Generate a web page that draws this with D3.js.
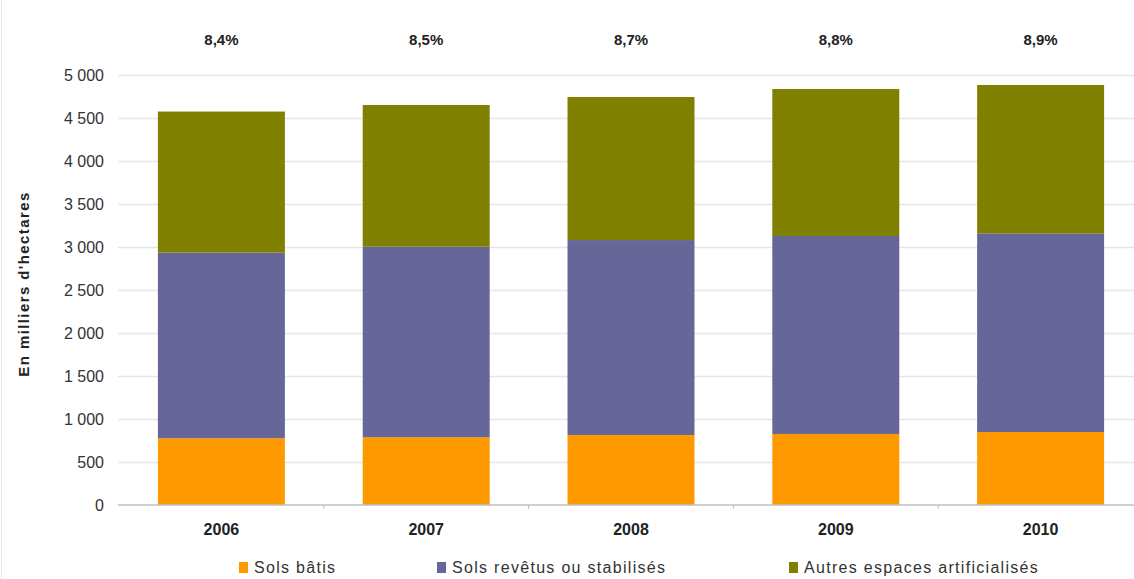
<!DOCTYPE html>
<html>
<head>
<meta charset="utf-8">
<script src="https://cdn.jsdelivr.net/npm/d3@7"></script>
<style>
  body { margin: 0; background: white; }
  svg { font-family: "Liberation Sans", Arial, sans-serif; }
  .grid line { stroke: #e6e6e6; stroke-width: 1.5px; }
  .grid path { display: none; }
  .y.axis path, .y.axis line { display: none; }
  .y.axis text { fill: #333; font-size: 16px; }
  .x.axis path { stroke: #c0c0c0; stroke-width: 1.5px; }
  .x.axis line { stroke: #c0c0c0; }
  .x.axis text { fill: #222; font-size: 16px; font-weight: bold; }
  .pct { fill: #222; font-size: 15px; font-weight: bold; }
  .legend text { fill: #333; font-size: 16px; letter-spacing: 1.3px; }
</style>
</head>
<body>
<svg id="svg" width="1134" height="579"></svg>
<script>
// data (milliers d'hectares)
var years = ["2006", "2007", "2008", "2009", "2010"];
var solsBatis = [776, 787, 814, 826, 849];
var solsRevetus = [2158, 2216, 2267, 2302, 2310];
var autresEspaces = [1641, 1648, 1663, 1709, 1725];
var shares = ["8,4%", "8,5%", "8,7%", "8,8%", "8,9%"];
var seriesNames = ["Sols bâtis", "Sols revêtus ou stabilisés", "Autres espaces artificialisés"];
var colors = ["#ff9900", "#666699", "#808000"];

var svg = d3.select("#svg");

var x = d3.scaleBand().domain(years).range([119, 1143])
  .paddingInner(0.38).paddingOuter(0.19);
var y = d3.scaleLinear().domain([0, 5000]).range([505, 75]);

// faint frame line on the left
svg.append("line").attr("x1", 1.5).attr("x2", 1.5).attr("y1", 0).attr("y2", 579)
  .attr("stroke", "#e8e8e8");

// gridlines
svg.append("g").attr("class", "grid")
  .attr("transform", "translate(118,0)")
  .call(d3.axisRight(y).tickValues(d3.range(500, 5001, 500)).tickSize(1134 - 118).tickFormat(""));

// stacked bars
var rows = years.map(function(yr, i) {
  return { year: yr, s0: solsBatis[i], s1: solsRevetus[i], s2: autresEspaces[i] };
});
var stack = d3.stack().keys(["s0", "s1", "s2"]);
var layers = stack(rows);

svg.selectAll("g.layer").data(layers).enter().append("g")
  .attr("class", "layer")
  .attr("fill", function(d, i) { return colors[i]; })
  .selectAll("rect").data(function(d) { return d; }).enter().append("rect")
  .attr("x", function(d) { return x(d.data.year); })
  .attr("width", x.bandwidth())
  .attr("y", function(d) { return y(d[1]); })
  .attr("height", function(d) { return y(d[0]) - y(d[1]); });

// y axis
svg.append("g").attr("class", "y axis")
  .attr("transform", "translate(104,0)")
  .call(d3.axisLeft(y).tickValues(d3.range(0, 5001, 500)).tickSize(0).tickPadding(0)
    .tickFormat(function(d) { return d3.format(",")(d).replace(",", " "); }));

// x axis
var xAxisG = svg.append("g").attr("class", "x axis")
  .attr("transform", "translate(0,505)")
  .call(d3.axisBottom(x).tickSize(0).tickPadding(19));
xAxisG.select(".domain").attr("d", "M118,0H1134");
// small tick marks between categories
xAxisG.selectAll(".sep").data(years.slice(1)).enter().append("line")
  .attr("class", "sep")
  .attr("x1", function(d) { return x(d) - x.step() * x.paddingInner() / 2; })
  .attr("x2", function(d) { return x(d) - x.step() * x.paddingInner() / 2; })
  .attr("y1", 0).attr("y2", 4)
  .attr("stroke", "#888");

// percentage labels
svg.selectAll("text.pct").data(shares).enter().append("text")
  .attr("class", "pct")
  .attr("x", function(d, i) { return x(years[i]) + x.bandwidth() / 2; })
  .attr("y", 45)
  .attr("text-anchor", "middle")
  .text(function(d) { return d; });

// y axis title
svg.append("text")
  .attr("transform", "translate(29,284) rotate(-90)")
  .attr("text-anchor", "middle")
  .attr("font-size", 15)
  .attr("font-weight", "bold")
  .attr("letter-spacing", "1.4px")
  .attr("fill", "#222")
  .text("En milliers d'hectares");

// legend
var legendX = [239, 437, 789];
var legend = svg.append("g").attr("class", "legend");
seriesNames.forEach(function(name, i) {
  legend.append("rect").attr("x", legendX[i]).attr("y", 562)
    .attr("width", 9).attr("height", 11).attr("fill", colors[i]);
  legend.append("text").attr("x", legendX[i] + 15).attr("y", 573).text(name);
});
</script>
</body>
</html>
